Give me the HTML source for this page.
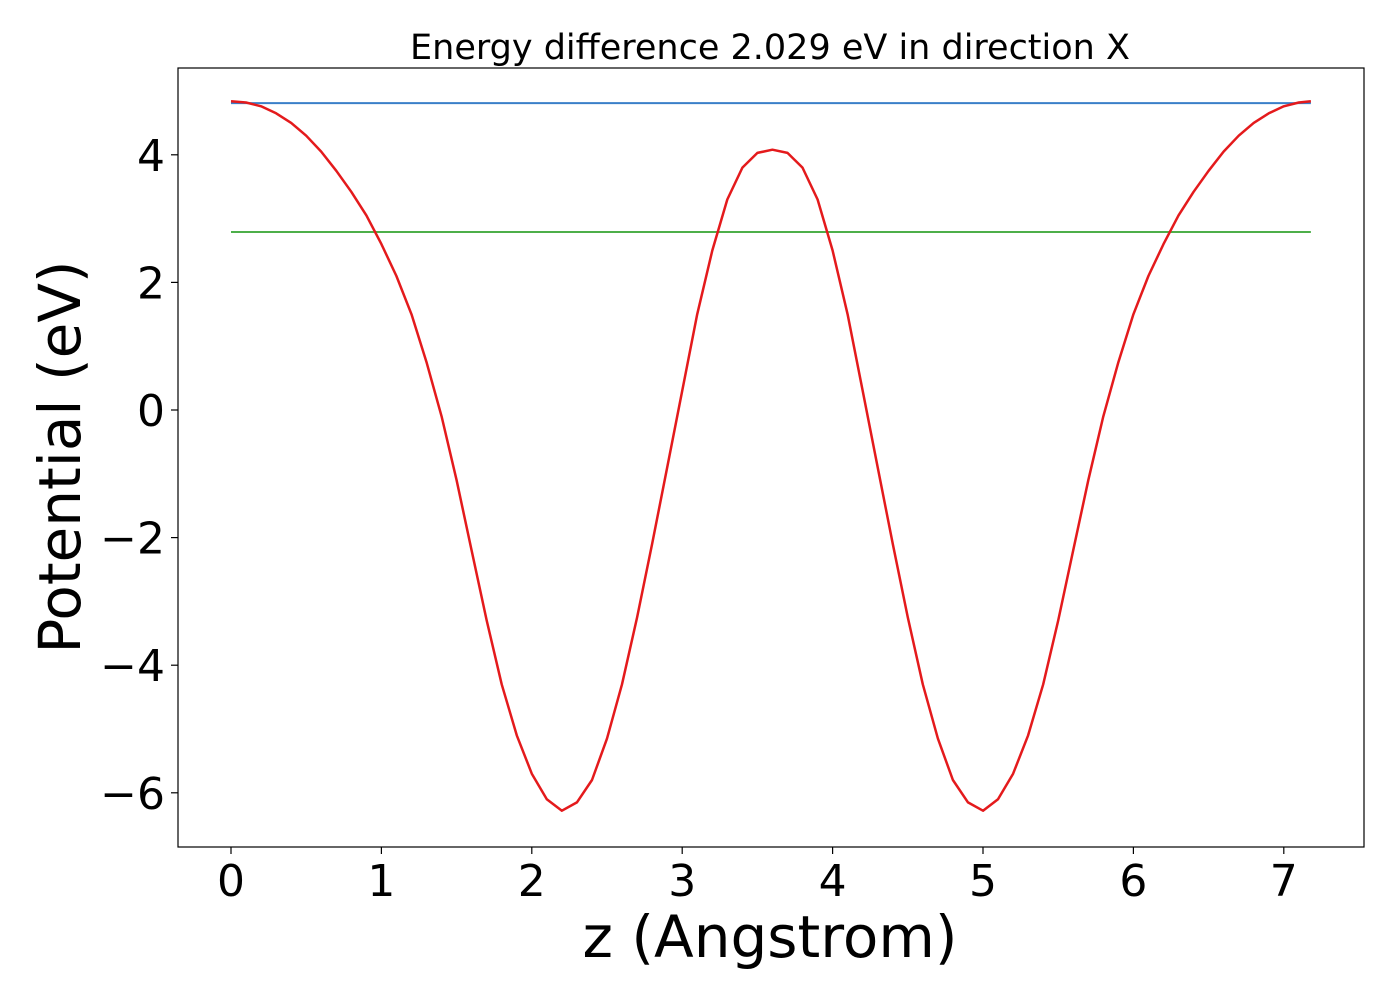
<!DOCTYPE html>
<html><head><meta charset="utf-8"><style>
body{margin:0;background:#fff;}
svg{display:block;font-family:"DejaVu Sans","Liberation Sans",sans-serif;}
</style></head><body>
<svg id="chart" width="1400" height="1000">
<text x="770" y="59" font-size="35" text-anchor="middle">Energy difference 2.029 eV in direction X</text>
<rect x="178" y="68" width="1186" height="779" fill="none" stroke="#000" stroke-width="1.2"/>
<g id="xticks"></g>
<g id="yticks"></g>
<g id="series"></g>
<text x="770" y="957" font-size="58" text-anchor="middle">z (Angstrom)</text>
<text transform="translate(80,457) rotate(-90)" font-size="58" text-anchor="middle">Potential (eV)</text>
</svg>
<script>
const zValues = [0,0.1,0.2,0.3,0.4,0.5,0.6,0.7,0.8,0.9,1.0,1.1,1.2,1.3,1.4,1.5,1.6,1.7,1.8,1.9,2.0,2.1,2.2,2.3,2.4,2.5,2.6,2.7,2.8,2.9,3.0,3.1,3.2,3.3,3.4,3.5,3.6,3.7,3.8,3.9,4.0,4.1,4.2,4.3,4.4,4.5,4.6,4.7,4.8,4.9,5.0,5.1,5.2,5.3,5.4,5.5,5.6,5.7,5.8,5.9,6.0,6.1,6.2,6.3,6.4,6.5,6.6,6.7,6.8,6.9,7.0,7.1,7.18];
const potential = [4.84,4.82,4.76,4.65,4.5,4.3,4.05,3.75,3.42,3.05,2.6,2.1,1.5,0.75,-0.1,-1.1,-2.2,-3.3,-4.3,-5.1,-5.7,-6.1,-6.28,-6.15,-5.8,-5.15,-4.3,-3.25,-2.1,-0.9,0.3,1.5,2.5,3.3,3.8,4.03,4.08,4.03,3.8,3.3,2.5,1.5,0.3,-0.9,-2.1,-3.25,-4.3,-5.15,-5.8,-6.15,-6.28,-6.1,-5.7,-5.1,-4.3,-3.3,-2.2,-1.1,-0.1,0.75,1.5,2.1,2.6,3.05,3.42,3.75,4.05,4.3,4.5,4.65,4.76,4.82,4.84];
const vacuumLevel = [4.81];
const averageLevel = [2.79];
const xTickVals = [0,1,2,3,4,5,6,7];
const yTickVals = [-6,-4,-2,0,2,4];
const NS="http://www.w3.org/2000/svg";
const sx = z => 231 + z*150.4;
const sy = v => 410 - v*63.8;
function mk(tag, attrs, parent){const e=document.createElementNS(NS,tag);for(const k in attrs)e.setAttribute(k,attrs[k]);parent.appendChild(e);return e;}
const xg=document.getElementById('xticks'), yg=document.getElementById('yticks'), sg=document.getElementById('series');
xTickVals.forEach(t=>{
  const l=mk('line',{x1:sx(t),x2:sx(t),y1:847,y2:854,stroke:'#000','stroke-width':1.2},xg);
  
  
  const tx=mk('text',{x:sx(t),y:896,'font-size':44,'text-anchor':'middle'},xg);
  tx.textContent=String(t);
  
  
});
yTickVals.forEach(t=>{
  const l=mk('line',{x1:171,x2:178,y1:sy(t),y2:sy(t),stroke:'#000','stroke-width':1.2},yg);
  
  
  const tx=mk('text',{x:165,y:sy(t)+16,'font-size':44,'text-anchor':'end'},yg);
  tx.textContent=t<0?'\u2212'+Math.abs(t):String(t);
  
  
});
const zMin=zValues[0], zMax=zValues[zValues.length-1];
const bl=mk('line',{x1:sx(zMin),x2:sx(zMax),y1:sy(vacuumLevel[0]),y2:sy(vacuumLevel[0]),stroke:'#3a7fc8','stroke-width':2},sg);


const gl=mk('line',{x1:sx(zMin),x2:sx(zMax),y1:sy(averageLevel[0]),y2:sy(averageLevel[0]),stroke:'#4daf4a','stroke-width':2},sg);


const pts=zValues.map((z,i)=>sx(z).toFixed(1)+','+sy(potential[i]).toFixed(1)).join(' ');
const pl=mk('polyline',{points:pts,fill:'none',stroke:'#e41a1c','stroke-width':2.5,'stroke-linejoin':'round'},sg);


</script>
</body></html>
